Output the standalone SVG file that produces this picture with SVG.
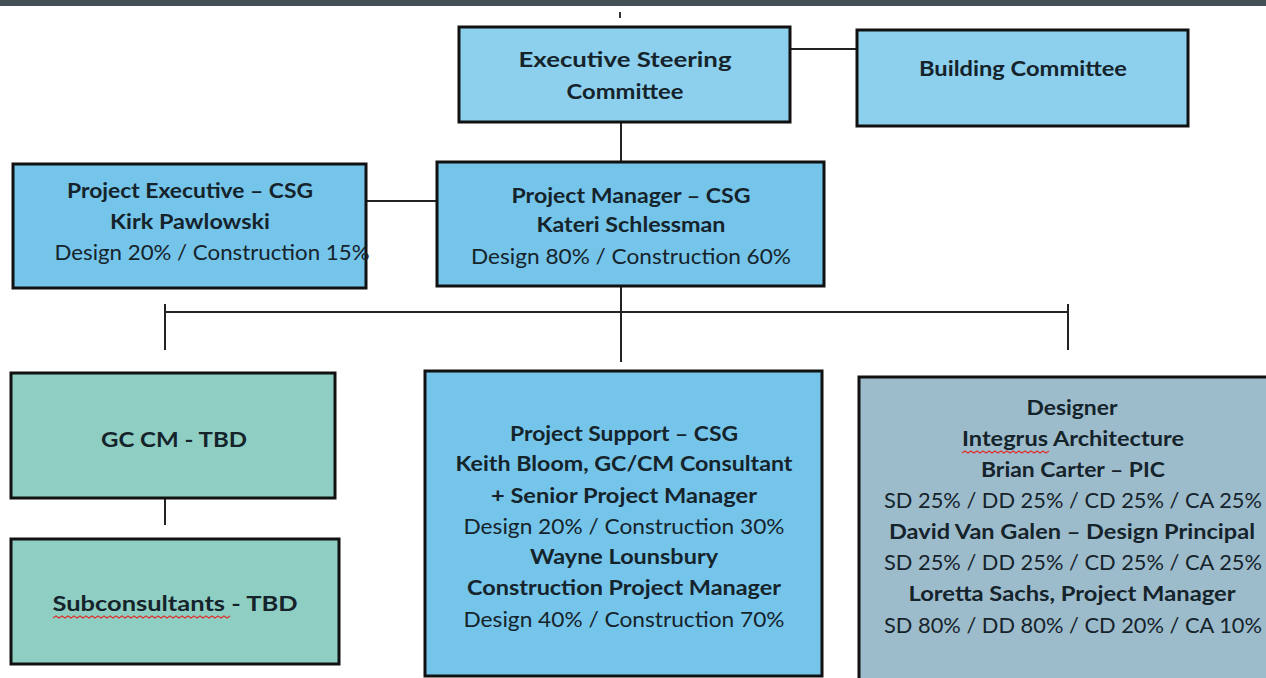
<svg xmlns="http://www.w3.org/2000/svg" width="1266" height="678" viewBox="0 0 1266 678">
<style>
.box{stroke:#111;stroke-width:3}
.blue1{fill:#8dd0ee}
.blue2{fill:#75c5ea}
.teal{fill:#8fcfc3}
.grey{fill:#9dbccb}
.conn line{stroke:#222;stroke-width:2}
text{font-family:Lato,"Open Sans","Liberation Sans",sans-serif;fill:#15232b;text-anchor:middle}
.b{font-weight:700;font-size:21px}
.r{font-weight:400;font-size:21px}
.sq{fill:none;stroke:#e0302c;stroke-width:1.2}
</style>
<rect x="0" y="0" width="1266" height="678" fill="#ffffff"/>
<rect x="0" y="0" width="1266" height="6" fill="#435055"/>
<line x1="620" y1="12" x2="620" y2="18" stroke="#333" stroke-width="2"/>
<g id="connectors" class="conn">
<line x1="790" y1="49" x2="857" y2="49"/>
<line x1="621" y1="122" x2="621" y2="162"/>
<line x1="366" y1="201" x2="437" y2="201"/>
<line x1="621" y1="286" x2="621" y2="362"/>
<line x1="165" y1="312" x2="1068" y2="312"/>
<line x1="165" y1="304" x2="165" y2="350"/>
<line x1="1068" y1="304" x2="1068" y2="350"/>
<line x1="165" y1="487" x2="165" y2="525"/>
</g>
<g id="executive-steering">
<rect class="box blue1" x="459" y="27" width="331" height="95"/>
<text class="b" x="625" y="67" font-size="25" textLength="213" lengthAdjust="spacingAndGlyphs">Executive Steering</text>
<text class="b" x="625" y="99" font-size="20" textLength="117" lengthAdjust="spacingAndGlyphs">Committee</text>
</g>
<g id="building-committee">
<rect class="box blue1" x="857" y="30" width="331" height="96"/>
<text class="b" x="1023" y="76" textLength="208" lengthAdjust="spacingAndGlyphs">Building Committee</text>
</g>
<g id="project-executive">
<rect class="box blue2" x="13" y="164" width="353" height="124"/>
<text class="b" x="190" y="198" textLength="246" lengthAdjust="spacingAndGlyphs">Project Executive – CSG</text>
<text class="b" x="190" y="229" textLength="160" lengthAdjust="spacingAndGlyphs">Kirk Pawlowski</text>
<text class="r" x="212" y="260" textLength="315" lengthAdjust="spacingAndGlyphs">Design 20% / Construction 15%</text>
</g>
<g id="project-manager">
<rect class="box blue2" x="437" y="162" width="387" height="124"/>
<text class="b" x="631" y="203" textLength="239" lengthAdjust="spacingAndGlyphs">Project Manager – CSG</text>
<text class="b" x="631" y="232" textLength="189" lengthAdjust="spacingAndGlyphs">Kateri Schlessman</text>
<text class="r" x="631" y="264" textLength="320" lengthAdjust="spacingAndGlyphs">Design 80% / Construction 60%</text>
</g>
<g id="gc-cm">
<rect class="box teal" x="11" y="373" width="324" height="125"/>
<text class="b" x="174" y="447" textLength="146" lengthAdjust="spacingAndGlyphs">GC CM - TBD</text>
</g>
<g id="subconsultants">
<rect class="box teal" x="11" y="539" width="328" height="125"/>
<text class="b" x="175" y="611" textLength="245" lengthAdjust="spacingAndGlyphs">Subconsultants - TBD</text>
<path class="sq" d="M53 618 l3 -2 l3 2 l3 -2 l3 2 l3 -2 l3 2 l3 -2 l3 2 l3 -2 l3 2 l3 -2 l3 2 l3 -2 l3 2 l3 -2 l3 2 l3 -2 l3 2 l3 -2 l3 2 l3 -2 l3 2 l3 -2 l3 2 l3 -2 l3 2 l3 -2 l3 2 l3 -2 l3 2 l3 -2 l3 2 l3 -2 l3 2 l3 -2 l3 2 l3 -2 l3 2 l3 -2 l3 2 l3 -2 l3 2 l3 -2 l3 2 l3 -2 l3 2 l3 -2 l3 2 l3 -2 l3 2 l3 -2 l3 2 l3 -2 l3 2 l3 -2 l3 2 l3 -2 l3 2 l3 -2"/>
</g>
<g id="project-support">
<rect class="box blue2" x="425" y="371" width="397" height="305"/>
<text class="b" x="624" y="441" textLength="228" lengthAdjust="spacingAndGlyphs">Project Support – CSG</text>
<text class="b" x="624" y="471" textLength="337" lengthAdjust="spacingAndGlyphs">Keith Bloom, GC/CM Consultant</text>
<text class="b" x="624" y="503" textLength="266" lengthAdjust="spacingAndGlyphs">+ Senior Project Manager</text>
<text class="r" x="624" y="534" textLength="321" lengthAdjust="spacingAndGlyphs">Design 20% / Construction 30%</text>
<text class="b" x="624" y="564" textLength="188" lengthAdjust="spacingAndGlyphs">Wayne Lounsbury</text>
<text class="b" x="624" y="595" textLength="314" lengthAdjust="spacingAndGlyphs">Construction Project Manager</text>
<text class="r" x="624" y="627" textLength="321" lengthAdjust="spacingAndGlyphs">Design 40% / Construction 70%</text>
</g>
<g id="designer">
<rect class="box grey" x="859" y="377" width="420" height="310"/>
<text class="b" x="1072" y="415" textLength="91" lengthAdjust="spacingAndGlyphs">Designer</text>
<text class="b" x="1073" y="446" textLength="222" lengthAdjust="spacingAndGlyphs">Integrus Architecture</text>
<path class="sq" d="M962 453 l3 -2 l3 2 l3 -2 l3 2 l3 -2 l3 2 l3 -2 l3 2 l3 -2 l3 2 l3 -2 l3 2 l3 -2 l3 2 l3 -2 l3 2 l3 -2 l3 2 l3 -2 l3 2 l3 -2 l3 2 l3 -2 l3 2 l3 -2 l3 2 l3 -2 l3 2 l3 -2"/>
<text class="b" x="1073" y="477" textLength="184" lengthAdjust="spacingAndGlyphs">Brian Carter – PIC</text>
<text class="r" x="1073" y="508" textLength="378" lengthAdjust="spacingAndGlyphs">SD 25% / DD 25% / CD 25% / CA 25%</text>
<text class="b" x="1072" y="539" textLength="366" lengthAdjust="spacingAndGlyphs">David Van Galen – Design Principal</text>
<text class="r" x="1073" y="570" textLength="378" lengthAdjust="spacingAndGlyphs">SD 25% / DD 25% / CD 25% / CA 25%</text>
<text class="b" x="1072" y="601" textLength="327" lengthAdjust="spacingAndGlyphs">Loretta Sachs, Project Manager</text>
<text class="r" x="1073" y="633" textLength="378" lengthAdjust="spacingAndGlyphs">SD 80% / DD 80% / CD 20% / CA 10%</text>
</g>
</svg>
